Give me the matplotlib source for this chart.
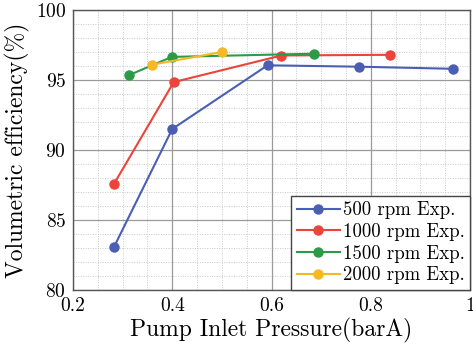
import numpy as np
import matplotlib
matplotlib.use("Agg")
import matplotlib.pyplot as plt
from matplotlib.ticker import MultipleLocator

# 500 rpm
p_500 = [0.283, 0.400, 0.592, 0.777, 0.965]
eff_500 = [83.1, 91.5, 96.05, 95.95, 95.8]
# 1000 rpm
p_1000 = [0.283, 0.403, 0.620, 0.839]
eff_1000 = [87.6, 94.85, 96.75, 96.8]
# 1500 rpm
p_1500 = [0.313, 0.399, 0.686]
eff_1500 = [95.35, 96.65, 96.88]
# 2000 rpm
p_2000 = [0.360, 0.500]
eff_2000 = [96.1, 97.0]

labels = ["500 rpm Exp.", "1000 rpm Exp.", "1500 rpm Exp.", "2000 rpm Exp."]
colors = ["#4a5fb3", "#ec433b", "#2c9b48", "#f6b826"]

plt.rcParams["font.family"] = "serif"
plt.rcParams["font.serif"] = ["cmr10", "DejaVu Serif"]
plt.rcParams["mathtext.fontset"] = "cm"
plt.rcParams["axes.formatter.use_mathtext"] = True


def main():
    fig = plt.figure(figsize=(4.73, 3.52), dpi=100)
    ax = fig.add_axes([73 / 473, 1 - 290 / 352, 397 / 473, 280 / 352])

    series = [(p_500, eff_500), (p_1000, eff_1000),
              (p_1500, eff_1500), (p_2000, eff_2000)]
    for (x, y), lab, c in zip(series, labels, colors):
        ax.plot(x, y, "-o", color=c, lw=1.5, ms=6.5, label=lab)

    ax.set_xlim(0.2, 1.0)
    ax.set_ylim(80, 100)
    ax.xaxis.set_major_locator(MultipleLocator(0.2))
    ax.xaxis.set_minor_locator(MultipleLocator(0.05))
    ax.yaxis.set_major_locator(MultipleLocator(5))
    ax.yaxis.set_minor_locator(MultipleLocator(1))
    ax.set_xticks([0.2, 0.4, 0.6, 0.8, 1.0])
    ax.set_xticklabels(["0.2", "0.4", "0.6", "0.8", "1"])
    ax.grid(True, which="major", color="#9a9a9a", lw=0.9, ls="-")
    ax.grid(True, which="minor", color="#c8c8c8", lw=0.7, ls=(0, (1, 1.5)))
    ax.set_axisbelow(True)
    ax.tick_params(which="both", length=0, labelsize=14, pad=5)
    for s in ax.spines.values():
        s.set_color("#555555")
        s.set_linewidth(1.0)

    ax.set_xlabel("Pump Inlet Pressure(barA)", fontsize=17, labelpad=2)
    ax.set_ylabel("Volumetric efficiency(%)", fontsize=17, labelpad=4)

    leg = ax.legend(loc="lower right", fontsize=13.5, fancybox=False,
                    framealpha=1, edgecolor="#444444", borderaxespad=0,
                    handlelength=2.3, handletextpad=0.15, labelspacing=0.2,
                    borderpad=0.3)
    leg.get_frame().set_linewidth(1.0)

    fig.savefig("out.png", dpi=100)


if __name__ == "__main__":
    main()
